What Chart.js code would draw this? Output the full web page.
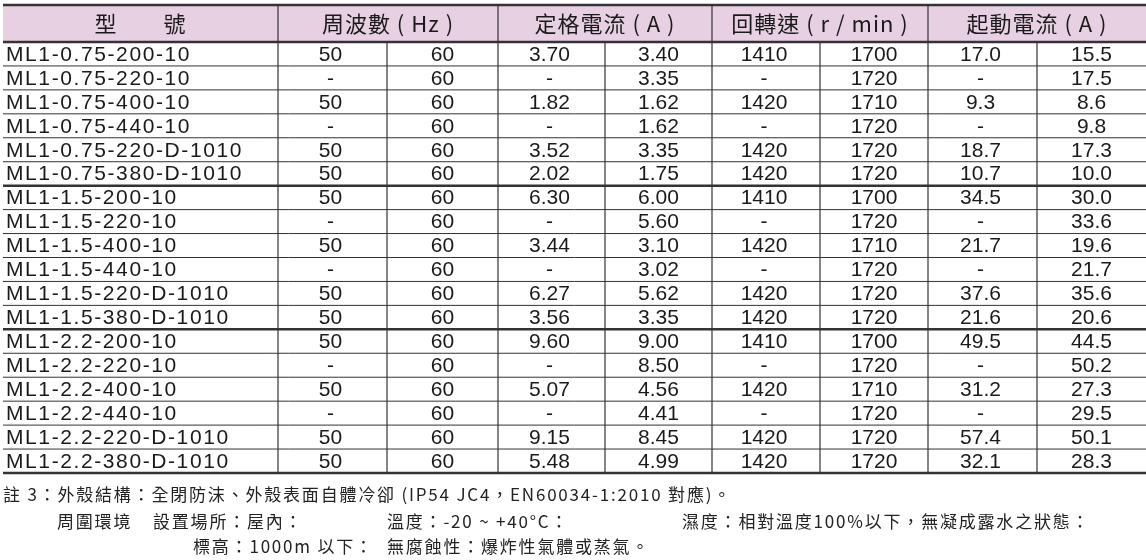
<!DOCTYPE html>
<html><head><meta charset="utf-8">
<script src="https://cdn.jsdelivr.net/npm/chart.js@4"></script>
<style>html,body{margin:0;background:#fff}#c{display:block}</style>
</head><body>
<div style="width:1146px;height:560px"><canvas id="c"></canvas></div>
<script>
var models = ["ML1-0.75-200-10","ML1-0.75-220-10","ML1-0.75-400-10","ML1-0.75-440-10","ML1-0.75-220-D-1010","ML1-0.75-380-D-1010",
"ML1-1.5-200-10","ML1-1.5-220-10","ML1-1.5-400-10","ML1-1.5-440-10","ML1-1.5-220-D-1010","ML1-1.5-380-D-1010",
"ML1-2.2-200-10","ML1-2.2-220-10","ML1-2.2-400-10","ML1-2.2-440-10","ML1-2.2-220-D-1010","ML1-2.2-380-D-1010"];
var freq50 = ["50","-","50","-","50","50","50","-","50","-","50","50","50","-","50","-","50","50"];
var freq60 = ["60","60","60","60","60","60","60","60","60","60","60","60","60","60","60","60","60","60"];
var cur50 = ["3.70","-","1.82","-","3.52","2.02","6.30","-","3.44","-","6.27","3.56","9.60","-","5.07","-","9.15","5.48"];
var cur60 = ["3.40","3.35","1.62","1.62","3.35","1.75","6.00","5.60","3.10","3.02","5.62","3.35","9.00","8.50","4.56","4.41","8.45","4.99"];
var rpm50 = ["1410","-","1420","-","1420","1420","1410","-","1420","-","1420","1420","1410","-","1420","-","1420","1420"];
var rpm60 = ["1700","1720","1710","1720","1720","1720","1700","1720","1710","1720","1720","1720","1700","1720","1710","1720","1720","1720"];
var start50 = ["17.0","-","9.3","-","18.7","10.7","34.5","-","21.7","-","37.6","21.6","49.5","-","31.2","-","57.4","32.1"];
var start60 = ["15.5","17.5","8.6","9.8","17.3","10.0","30.0","33.6","19.6","21.7","35.6","20.6","44.5","50.2","27.3","29.5","50.1","28.3"];
var headers = ["型　　號","周波數 ( Hz )","定格電流 ( A )","回轉速 ( r / min )","起動電流 ( A )"];

var edges = [3,278,387,498,605,712,820,928,1037,1146];
var cols = [freq50,freq60,cur50,cur60,rpm50,rpm60,start50,start60];

var tablePlugin = {
  id:'table',
  beforeDraw:function(chart){
    var ctx=chart.ctx, y=chart.scales.y, x=chart.scales.x, a=chart.chartArea;
    var X=function(v){return x.getPixelForValue(v);};
    var bandH=(y.getPixelForValue(1)-y.getPixelForValue(0));
    var top=a.top-37;
    ctx.save();
    ctx.fillStyle='#e8d0e3';
    ctx.fillRect(X(edges[0]),top,X(1146)-X(edges[0]),a.top-top);
    ctx.strokeStyle='#333';
    function h(yy,w){ctx.lineWidth=w;ctx.beginPath();ctx.moveTo(X(3),yy);ctx.lineTo(X(1146),yy);ctx.stroke();}
    h(top,2.5);h(a.top,2.5);
    models.forEach(function(m,i){
      var yy=y.getPixelForValue(i)+bandH/2;
      h(yy,(i==5||i==11||i==17)?2.5:1);
    });
    ctx.lineWidth=1.2;
    edges.slice(1,-1).forEach(function(e,k){
      var major=(k%2==0);
      ctx.beginPath();ctx.moveTo(X(e),major?top:a.top);ctx.lineTo(X(e),a.bottom);ctx.stroke();
    });
    ctx.fillStyle='#1a1a1a';ctx.textBaseline='middle';ctx.textAlign='center';
    ctx.font='22px "Noto Sans CJK TC", "Liberation Sans"';
    ctx.letterSpacing='1px';
    var hc=[(3+278)/2,(278+498)/2,(498+712)/2,(712+928)/2,(928+1146)/2];
    headers.forEach(function(t,i){ctx.fillText(t,X(hc[i]),(top+a.top)/2);});
    ctx.font='21px "Liberation Sans", Arial';
    models.forEach(function(m,i){
      var yy=y.getPixelForValue(i)+1;
      ctx.textAlign='left';ctx.letterSpacing='1.6px';
      ctx.fillText(m,X(6),yy);
      ctx.letterSpacing='0px';ctx.textAlign='center';
      cols.forEach(function(c,j){
        var cx=(edges[j+1]+edges[j+2])/2+(j%2==0?-2:0);
        ctx.fillText(c[i],X(cx),yy);
      });
    });
    ctx.textAlign='left';ctx.font='17px "Noto Sans CJK TC"';ctx.fillStyle='#222';
    ctx.letterSpacing='1.8px';
    var notes=[[3,495,"註 3：外殼結構：全閉防沫、外殼表面自體冷卻 (IP54 JC4，EN60034-1:2010 對應)。"],
      [57,522,"周圍環境"],[153,522,"設置場所：屋內："],[387,522,"溫度：-20 ~ +40°C："],[682,522,"濕度：相對溫度100%以下，無凝成露水之狀態："],
      [193,547,"標高：1000m 以下："],[387,547,"無腐蝕性：爆炸性氣體或蒸氣。"]];
    notes.forEach(function(n){ctx.fillText(n[2],X(n[0]),n[1]);});
    ctx.restore();
  }
};

new Chart(document.getElementById('c'),{
  type:'scatter',
  data:{labels:models,datasets:[{data:[],pointRadius:0}]},
  options:{
    responsive:true,maintainAspectRatio:false,animation:false,
    layout:{padding:{top:42,bottom:87,left:0,right:0}},
    plugins:{legend:{display:false},tooltip:{enabled:false}},
    scales:{
      x:{type:'linear',min:0,max:1146,display:false},
      y:{type:'category',labels:models,offset:true,display:false}
    }
  },
  plugins:[tablePlugin]
});
</script>
</body></html>
